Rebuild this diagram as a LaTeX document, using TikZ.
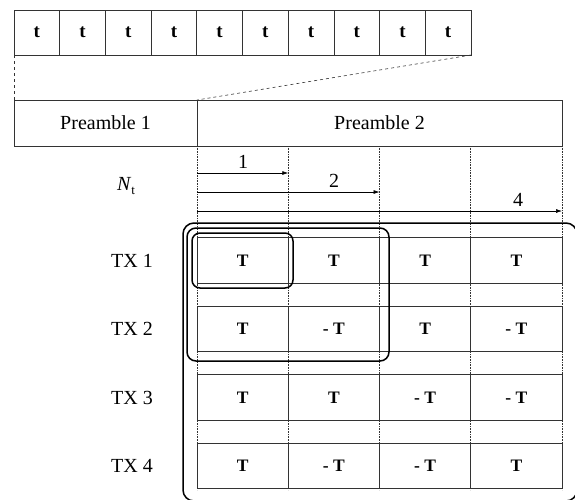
\documentclass[tikz,border=0pt]{standalone}
\usepackage{fontspec}
\setmainfont{Liberation Serif}
\usetikzlibrary{arrows.meta}
\begin{document}
\begin{tikzpicture}[x=1pt,y=-1pt,
  every node/.style={font=\fontsize{20}{22}\selectfont},
  cell/.style={draw=black!80, line width=0.8pt, inner sep=0pt, outer sep=0pt},
  tcell/.style={cell, minimum width=45.7pt, minimum height=45pt, font=\fontsize{19}{21}\selectfont\bfseries},
  pcell/.style={cell, minimum height=46pt},
  gcell/.style={cell, minimum width=91.25pt, minimum height=45.5pt, font=\fontsize{17.5}{20}\selectfont\bfseries},
  guide/.style={densely dotted, line width=0.6pt, black!80},
  zoomline/.style={dashed, line width=0.6pt, black!80},
  span/.style={line width=0.6pt, -{Latex[length=6pt,width=4pt]}},
  group/.style={line width=1.5pt, rounded corners=#1},
]
\useasboundingbox (0,0) rectangle (575,499);
\begin{scope}
\clip (0,0) rectangle (575,499);

% sub-symbols of the first OFDM symbol
\foreach \i in {1,...,10}
  \node[tcell] (t\i) at ({14+45.7*(\i-0.5)},32.5) {t};

% preamble row
\node[pcell, minimum width=183pt] (p1) at (105.5,123) {Preamble 1};
\node[pcell, minimum width=365pt] (p2) at (379.5,123) {Preamble 2};

% dashed lines tying the sub-symbols to the preamble
\draw[zoomline] (t1.south west) -- (p1.north west);
\draw[zoomline] (t10.south east) -- (p2.north west);

% column guides
\foreach \x [count=\k] in {197,288.25,379.5,470.75,562}
  \coordinate (g\k) at (\x,146);
\foreach \k in {1,...,5}
  \draw[guide] (g\k) -- ++(0,344);

% lengths of the cover codes
\coordinate (a0) at (197,173);  \coordinate (a1) at (288.25,173);
\coordinate (b0) at (197,192);  \coordinate (b1) at (379.5,192);
\coordinate (c0) at (197,211);  \coordinate (c1) at (562,211);
\draw[span] (a0) -- (a1);
\draw[span] (b0) -- (b1);
\draw[span] (c0) -- (c1);
\node (l1) at (243,162) {1};
\node (l2) at (334,181) {2};
\node (l4) at (518,200) {4};
\node (nt) at (126,186) {\textit{N}\raisebox{-0.4ex}{\fontsize{13}{15}\selectfont t}};

% transmitters and their sign patterns
\foreach \r/\y/\a/\b/\c/\d in {1/260.5/T/T/T/T, 2/329/T/- T/T/- T, 3/397.5/T/T/- T/- T, 4/466/T/- T/- T/T}{
  \node (tx\r) at (132,\y) {TX \r};
  \node[gcell] (m\r a) at (242.625,\y) {\a};
  \node[gcell] (m\r b) at (333.875,\y) {\b};
  \node[gcell] (m\r c) at (425.125,\y) {\c};
  \node[gcell] (m\r d) at (516.375,\y) {\d};
}

% nested groups of transmitters
\draw[group=8pt] (192,233) rectangle (293,288);
\draw[group=9pt] (187,228) rectangle (389,361);
\draw[group=11pt] (183,223) rectangle (577,501);
\end{scope}
\end{tikzpicture}
\end{document}
